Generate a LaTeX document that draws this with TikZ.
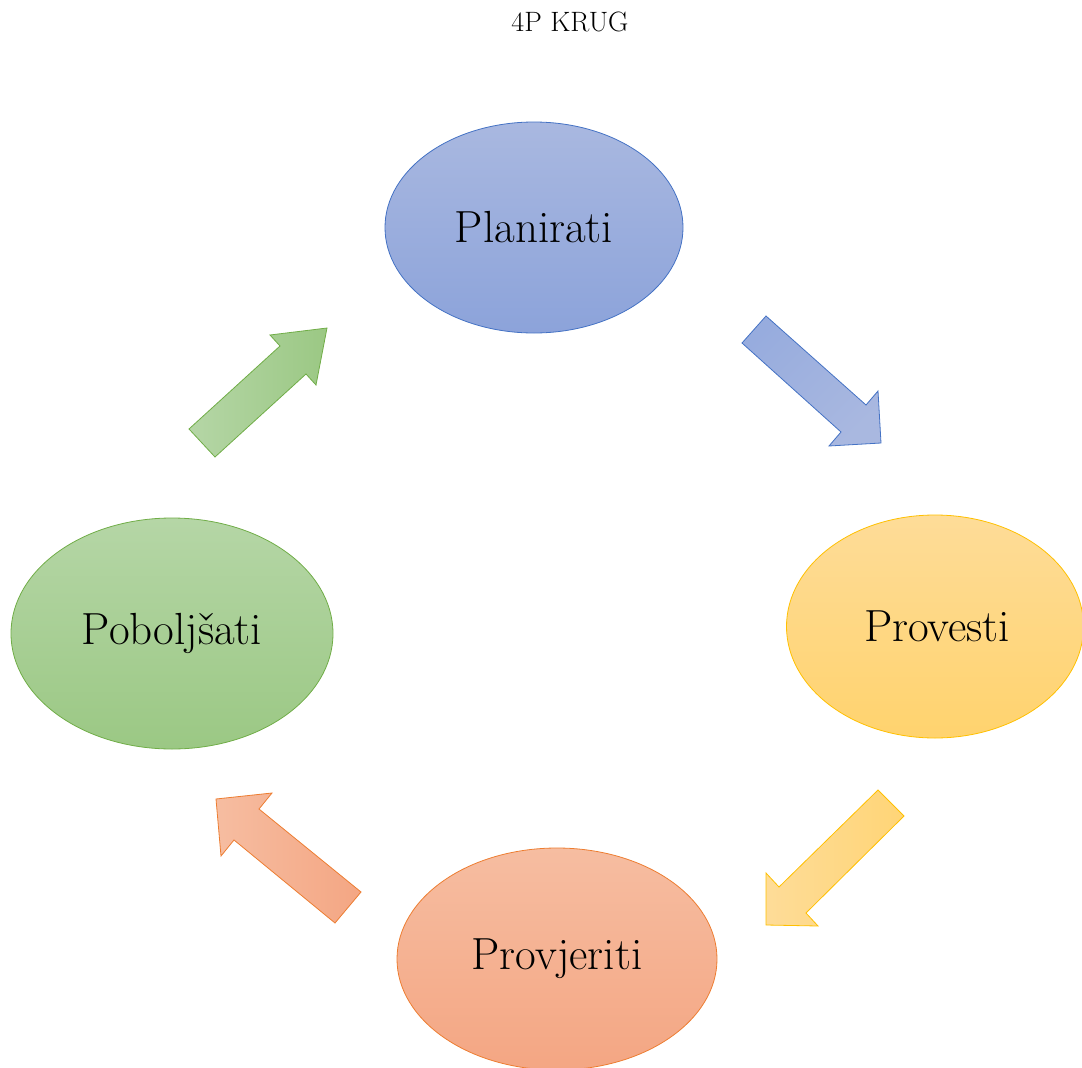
\documentclass[tikz,border=0pt]{standalone}
\usepackage{fontspec}
\usepackage{tikz}
\usetikzlibrary{shapes.geometric}
\begin{document}
\begin{tikzpicture}[x=1pt,y=-1pt,
  phase/.style={ellipse, inner sep=0pt, line width=0.8pt, font=\fontsize{45}{52}\selectfont},
  blockarrow/.style={line width=0.8pt, line join=miter}]
\definecolor{bluestroke}{HTML}{4472C4}
\definecolor{bluetop}{HTML}{A9B8E0}
\definecolor{bluebot}{HTML}{8CA3DA}
\definecolor{yelstroke}{HTML}{FFC000}
\definecolor{yeltop}{HTML}{FEDC98}
\definecolor{yelbot}{HTML}{FFD36E}
\definecolor{orstroke}{HTML}{ED7D31}
\definecolor{ortop}{HTML}{F6BDA1}
\definecolor{orbot}{HTML}{F4A683}
\definecolor{grstroke}{HTML}{70AD47}
\definecolor{grtop}{HTML}{B5D6A6}
\definecolor{grbot}{HTML}{9BC884}
\useasboundingbox (0,0) rectangle (1082,1068);
\begin{scope}
\clip (0,0) rectangle (1082,1068);
\node (title) at (570,22) {\fontsize{28}{33}\selectfont 4P KRUG};
\node[phase, draw=bluestroke, top color=bluetop, bottom color=bluebot,
  minimum width=298pt, minimum height=211pt] (plan) at (534,227.5) {Planirati};
\node[phase, draw=yelstroke, top color=yeltop, bottom color=yelbot,
  minimum width=297pt, minimum height=223pt] (prov) at (935,626.5) {\hspace*{4pt}Provesti};
\node[phase, draw=orstroke, top color=ortop, bottom color=orbot,
  minimum width=320pt, minimum height=222pt] (check) at (557,959) {Provjeriti};
\node[phase, draw=grstroke, top color=grtop, bottom color=grbot,
  minimum width=322pt, minimum height=231pt] (impr) at (172,633.5) {Poboljšati};
% block arrows
\draw[blockarrow, draw=bluestroke, shading=axis, left color=bluebot!90, right color=bluetop, shading angle=45]
  (742,343) -- (766,316) -- (866,405) -- (878,391) -- (881,443) -- (829,446) -- (841,432) -- cycle;
\draw[blockarrow, draw=yelstroke, left color=yeltop, right color=yelbot!80!yeltop]
  (878,790) -- (904,816) -- (806,913) -- (818,926) -- (766,925) -- (766,873) -- (779,887) -- cycle;
\draw[blockarrow, draw=orstroke, left color=ortop, right color=orbot]
  (361,892) -- (335,923) -- (234,840) -- (221,856) -- (216,799) -- (272,793) -- (259,809) -- cycle;
\draw[blockarrow, draw=grstroke, left color=grtop, right color=grbot]
  (189,429) -- (215,457) -- (306,374) -- (316,385) -- (327,328) -- (270,335) -- (280,346) -- cycle;
\end{scope}
\end{tikzpicture}
\end{document}
